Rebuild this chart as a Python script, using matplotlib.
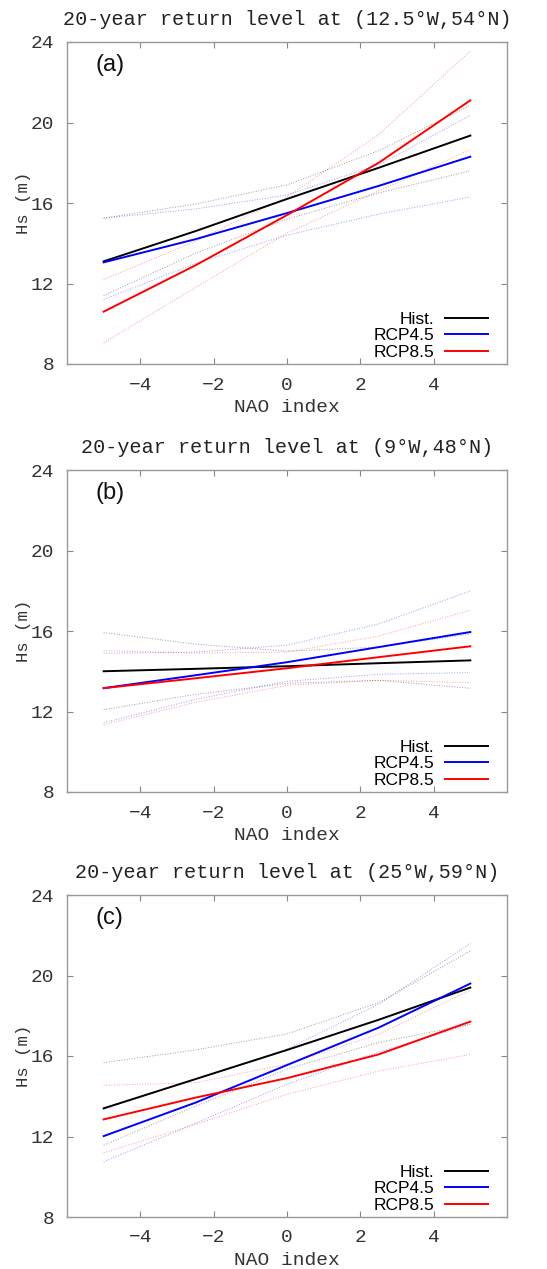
import matplotlib
matplotlib.use("Agg")
import matplotlib.pyplot as plt

# NAO index positions where the curves were read
nao = [-5, -2.5, 0, 2.5, 5]

# (a) 12.5W, 54N
a_hist = [13.1, 14.6, 16.2, 17.75, 19.35]
a_hist_hi = [15.25, 15.95, 16.9, 18.6, 20.85]
a_hist_lo = [11.4, 13.5, 15.2, 16.5, 17.6]
a_r45 = [13.05, 14.2, 15.5, 16.85, 18.3]
a_r45_hi = [15.25, 15.7, 16.4, 17.9, 20.35]
a_r45_lo = [11.2, 13.0, 14.4, 15.45, 16.3]
a_r85 = [10.6, 12.9, 15.4, 18.0, 21.1]
a_r85_hi = [12.2, 14.1, 16.3, 19.4, 23.55]
a_r85_lo = [9.05, 11.8, 14.5, 16.6, 18.65]

# (b) 9W, 48N
b_hist = [14.0, 14.12, 14.25, 14.4, 14.54]
b_hist_hi = [15.92, 15.35, 15.0, 15.2, 15.85]
b_hist_lo = [12.09, 12.85, 13.4, 13.55, 13.15]
b_r45 = [13.16, 13.8, 14.45, 15.2, 15.95]
b_r45_hi = [14.89, 14.95, 15.3, 16.35, 17.99]
b_r45_lo = [11.44, 12.6, 13.5, 13.85, 13.93]
b_r85 = [13.16, 13.65, 14.15, 14.7, 15.24]
b_r85_hi = [15.02, 14.9, 14.95, 15.75, 17.03]
b_r85_lo = [11.34, 12.45, 13.3, 13.55, 13.43]

# (c) 25W, 59N
c_hist = [13.4, 14.85, 16.3, 17.8, 19.4]
c_hist_hi = [15.67, 16.3, 17.1, 18.65, 21.22]
c_hist_lo = [11.57, 13.5, 15.35, 16.67, 17.58]
c_r45 = [12.02, 13.68, 15.55, 17.41, 19.6]
c_r45_hi = [13.35, 14.85, 16.35, 18.57, 21.59]
c_r45_lo = [10.74, 12.65, 14.6, 16.2, 17.58]
c_r85 = [12.85, 13.93, 14.9, 16.08, 17.71]
c_r85_hi = [14.54, 14.67, 15.6, 17.08, 19.27]
c_r85_lo = [11.19, 12.6, 14.1, 15.25, 16.08]

titles = ["20-year return level at (12.5°W,54°N)",
          "20-year return level at (9°W,48°N)",
          "20-year return level at (25°W,59°N)"]
panel_labels = ["(a)", "(b)", "(c)"]
legend_labels = ["Hist.", "RCP4.5", "RCP8.5"]
colors = ["black", "#0000ff", "#ff0000"]

panels = [
    [(a_hist, a_hist_hi, a_hist_lo), (a_r45, a_r45_hi, a_r45_lo), (a_r85, a_r85_hi, a_r85_lo)],
    [(b_hist, b_hist_hi, b_hist_lo), (b_r45, b_r45_hi, b_r45_lo), (b_r85, b_r85_hi, b_r85_lo)],
    [(c_hist, c_hist_hi, c_hist_lo), (c_r45, c_r45_hi, c_r45_lo), (c_r85, c_r85_hi, c_r85_lo)],
]

W, H = 547, 1269
fig = plt.figure(figsize=(W / 100, H / 100), dpi=100)

mono = "Liberation Mono"
sans = "Liberation Sans"
tops = [42, 470, 895]

for i, top in enumerate(tops):
    ax = fig.add_axes([67 / W, 1 - (top + 322) / H, 440 / W, 322 / H])
    handles = []
    # thin dotted confidence bounds first, central estimates on top
    for (mid, hi, lo), col in zip(panels[i], colors):
        ax.plot(nao, hi, color=col, lw=0.7, ls=":", alpha=0.4)
        ax.plot(nao, lo, color=col, lw=0.7, ls=":", alpha=0.4)
    for (mid, hi, lo), col, lab in zip(panels[i], colors, legend_labels):
        h, = ax.plot(nao, mid, color=col, lw=1.4, label=lab)
        handles.append(h)

    ax.set_xlim(-6, 6)
    ax.set_ylim(8, 24)
    ax.set_xticks([-4, -2, 0, 2, 4])
    ax.set_yticks([8, 12, 16, 20, 24])
    ax.tick_params(direction="in", top=True, right=True, length=4, width=0.8,
                   color="#888888", labelcolor="#333333", labelsize=14, pad=9)
    for lab in ax.get_xticklabels() + ax.get_yticklabels():
        lab.set_fontfamily(mono)
    for sp in ax.spines.values():
        sp.set_color("#999999")
        sp.set_linewidth(1.0)

    ax.set_title(titles[i], fontfamily=mono, fontsize=14.5, color="#222222", pad=12)
    ax.set_xlabel("NAO index", fontfamily=mono, fontsize=14, color="#333333", labelpad=4)
    ax.set_ylabel("Hs (m)", fontfamily=mono, fontsize=12.5, color="#333333", labelpad=0)
    ax.text(0.065, 0.93, panel_labels[i], transform=ax.transAxes, fontfamily=sans,
            fontsize=17, va="center", ha="left", color="#111111")

    ax.legend(handles=handles, loc="lower right", bbox_to_anchor=(0.985, -0.025),
              frameon=False, markerfirst=False, prop={"family": sans, "size": 12.5},
              handlelength=2.5, handletextpad=0.6, labelspacing=0.08, borderpad=0.2)

fig.savefig("out.png", dpi=100)
